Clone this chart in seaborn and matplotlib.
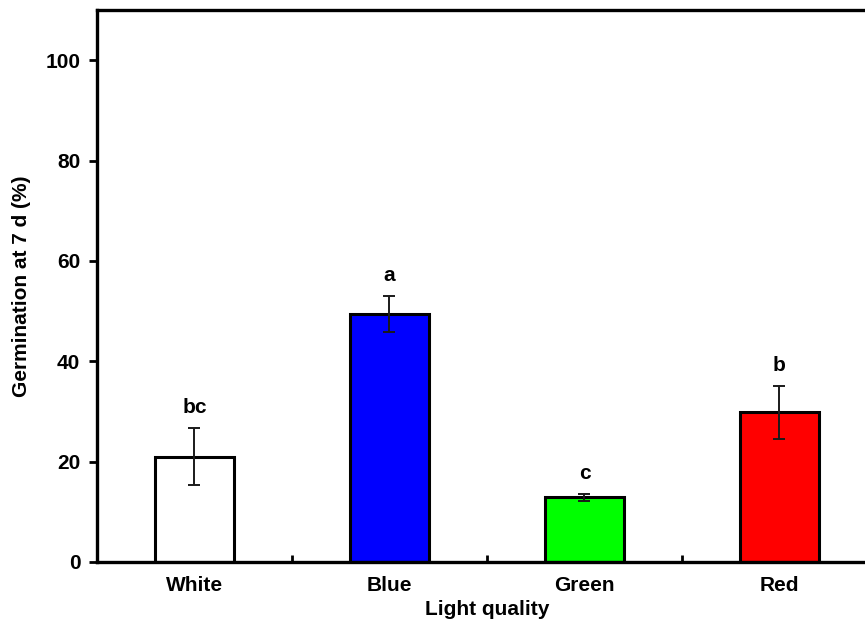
import matplotlib
matplotlib.use("Agg")
import matplotlib.pyplot as plt
import numpy as np
import pandas as pd
import seaborn as sns

# values
light = ["White", "Blue", "Green", "Red"]
germination = [21.0, 49.4, 12.9, 29.8]
sem = [5.7, 3.6, 0.65, 5.3]
letters = ["bc", "a", "c", "b"]
bar_colors = ["#FFFFFF", "#0000FF", "#00FF00", "#FF0000"]

df = pd.DataFrame({"light": light, "germination": germination, "sem": sem})

sns.set_style("ticks")
plt.rcParams["font.family"] = ["Liberation Sans", "DejaVu Sans"]
plt.rcParams["font.weight"] = "bold"
plt.rcParams["text.color"] = "black"
plt.rcParams["axes.labelcolor"] = "black"
plt.rcParams["xtick.color"] = "black"
plt.rcParams["ytick.color"] = "black"

fig = plt.figure(figsize=(8.65, 6.27), dpi=100)
ax = fig.add_axes([0.1121, 0.1037, 0.9017, 0.8803])

sns.barplot(
    data=df, x="light", y="germination", hue="light",
    palette=dict(zip(light, bar_colors)), legend=False,
    width=0.405, edgecolor="black", linewidth=2.2, saturation=1,
    errorbar=None, ax=ax,
)

xpos = np.arange(len(light))
ax.errorbar(xpos, df["germination"], yerr=df["sem"], fmt="none",
            ecolor="#1a1a1a", elinewidth=1.4, capsize=4, capthick=1.4, zorder=5)

for x, m, e, lab in zip(xpos, germination, sem, letters):
    ax.text(x, m + e + 4, lab, ha="center", va="center", color="black",
            fontsize=15, fontweight="bold")

ax.set_xlim(-0.5, 3.5)
ax.set_ylim(0, 110)
ax.set_yticks([0, 20, 40, 60, 80, 100])
ax.set_xlabel("Light quality", fontsize=15, fontweight="bold", labelpad=4)
ax.set_ylabel("Germination at 7 d (%)", fontsize=15, fontweight="bold", labelpad=10)

ax.tick_params(axis="y", direction="out", length=6, width=2, labelsize=15, pad=6)
ax.tick_params(axis="x", which="major", length=0, labelsize=15, pad=10)
ax.set_xticks([0.5, 1.5, 2.5], minor=True)
ax.tick_params(axis="x", which="minor", direction="in", length=5, width=2)
for lbl in ax.get_xticklabels() + ax.get_yticklabels():
    lbl.set_fontweight("bold")
    lbl.set_color("black")

for side in ["left", "bottom", "top"]:
    ax.spines[side].set_linewidth(2.4)
    ax.spines[side].set_color("black")
ax.spines["right"].set_visible(False)

fig.savefig("out.png", dpi=100)
